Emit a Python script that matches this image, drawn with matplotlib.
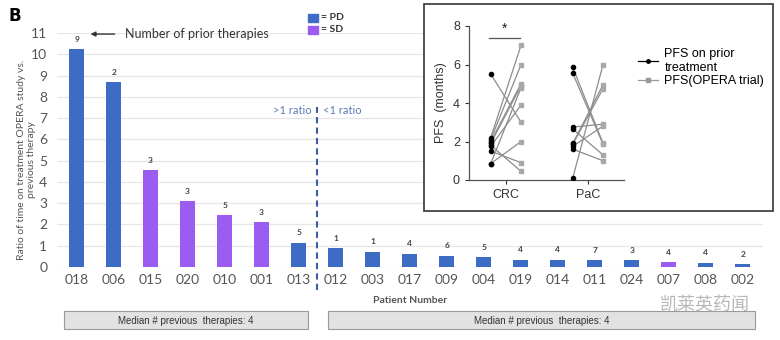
import matplotlib
matplotlib.use("Agg")
import matplotlib.pyplot as plt
from matplotlib.patches import Rectangle
from matplotlib.lines import Line2D

plt.rcParams['font.family'] = ['Lato', 'DejaVu Sans', 'Noto Sans CJK SC']

# Ratio of time on treatment (OPERA vs previous therapy), per patient
patients = ['018', '006', '015', '020', '010', '001', '013',
            '012', '003', '017', '009', '004', '019', '014', '011', '024', '007', '008', '002']
ratios = [10.25, 8.7, 4.55, 3.1, 2.45, 2.1, 1.15,
          0.87, 0.72, 0.62, 0.54, 0.46, 0.34, 0.34, 0.31, 0.31, 0.24, 0.2, 0.13]
prior_therapies = [9, 2, 3, 3, 5, 3, 5, 1, 1, 4, 6, 5, 4, 4, 7, 3, 4, 4, 2]
response = ['PD', 'PD', 'SD', 'SD', 'SD', 'SD', 'PD',
            'PD', 'PD', 'PD', 'PD', 'PD', 'PD', 'PD', 'PD', 'PD', 'SD', 'PD', 'PD']
yticks_main = list(range(0, 12))

# PFS pairs (prior treatment -> OPERA trial), months
crc_prior = [5.5, 2.2, 2.1, 2.0, 1.9, 1.8, 1.75, 1.5, 0.85, 0.85]
crc_opera = [3.0, 7.0, 6.0, 5.0, 4.9, 0.45, 3.9, 0.9, 2.0, 4.8]
pac_prior = [5.85, 5.55, 2.75, 2.65, 1.9, 1.85, 1.6, 0.1, 1.75]
pac_opera = [1.9, 1.85, 2.9, 1.3, 4.95, 4.75, 1.0, 6.0, 2.8]
inset_groups = ['CRC', 'PaC']

PD_COLOR = '#3d6cc4'
SD_COLOR = '#9b5cf2'
colors = {'PD': PD_COLOR, 'SD': SD_COLOR}
INSET_FONT = ['Liberation Sans', 'DejaVu Sans']

W, H = 780, 340
fig = plt.figure(figsize=(W / 100, H / 100), dpi=100)
fig.patch.set_facecolor('white')


def fx(px):
    return px / W


def fy(py):
    return 1 - py / H


# ---- main bar chart ----
ax = fig.add_axes([fx(57), fy(267), fx(763) - fx(57), fy(33) - fy(267)])
x = list(range(len(patients)))
ax.bar(x, ratios, width=0.4, color=[colors[r] for r in response], zorder=3)
for xi, v, n in zip(x, ratios, prior_therapies):
    ax.text(xi, v + 0.3, str(n), ha='center', va='bottom', fontsize=6,
            fontweight='bold', color='#444444')
ax.set_xlim(-0.53, 18.55)
ax.set_ylim(0, 11)
ax.set_yticks(yticks_main)
ax.set_yticklabels([str(t) for t in yticks_main], fontsize=10, color='#555555')
ax.set_xticks(x)
ax.set_xticklabels(patients, fontsize=10, color='#555555')
ax.tick_params(length=0, pad=7)
ax.tick_params(axis='x', pad=5)
ax.grid(axis='y', color='#e6e6e6', linewidth=0.9, zorder=0)
for s in ax.spines.values():
    s.set_visible(False)
ax.set_xlabel('Patient Number', fontsize=7.5, fontweight='bold', color='#555555')
ax.xaxis.set_label_coords((410 - 57) / (763 - 57), -0.125)
ax.set_ylabel('Ratio of time on treatment OPERA study vs.\nprevious therapy',
              fontsize=7.5, color='#555555', linespacing=1.1)
ax.yaxis.set_label_coords(-0.03, 0.46)

# divider between >1 and <1 ratio
ax.plot([6.5, 6.5], [-1.1, 7.5], linestyle=(0, (3, 2)), color='#3a5ea8',
        linewidth=1.5, clip_on=False, zorder=4)
ax.text(6.35, 7.35, '>1 ratio', ha='right', va='center', fontsize=8, color='#5b7bb5')
ax.text(6.65, 7.35, '<1 ratio', ha='left', va='center', fontsize=8, color='#5b7bb5')

# annotation arrow
ax.annotate('', xy=(0.3, 10.95), xytext=(1.1, 10.95),
            arrowprops=dict(arrowstyle='-|>', color='#333333', lw=1.0,
                            mutation_scale=7))
ax.text(1.3, 10.95, 'Number of prior therapies', ha='left', va='center',
        fontsize=9, color='#333333')

# legend squares
for py, lab, c in [(18, '= PD', PD_COLOR), (30, '= SD', SD_COLOR)]:
    fig.patches.append(Rectangle((fx(308), fy(py + 4)), fx(10), 8 / H,
                                 transform=fig.transFigure, color=c))
    fig.text(fx(321), fy(py), lab, fontsize=7.5, fontweight='bold',
             color='#333333', va='center', ha='left')

# panel letter
fig.text(fx(8), fy(16), 'B', fontsize=12, fontweight='bold', va='center',
         family=['DejaVu Sans'])

# median boxes
for x0, x1 in [(64, 308), (328, 755)]:
    fig.patches.append(Rectangle((fx(x0), fy(329)), fx(x1 - x0), (329 - 311) / H,
                                 transform=fig.transFigure, facecolor='#e2e2e2',
                                 edgecolor='#9a9a9a', linewidth=0.8))
    fig.text(fx((x0 + x1) / 2), fy(320.5), 'Median # previous  therapies: 4',
             fontsize=7, color='#333333', ha='center', va='center',
             family=INSET_FONT)

# watermark
fig.text(fx(660), fy(305), '凯莱英药闻', fontsize=13,
         family=['Noto Sans CJK SC', 'DejaVu Sans'], color='#b8b8b8',
         ha='left', va='center')

# ---- inset: PFS comparison ----
fig.patches.append(Rectangle((fx(424), fy(211)), fx(773 - 424), (211 - 4) / H,
                             transform=fig.transFigure, facecolor='white',
                             edgecolor='#444444', linewidth=1.3, zorder=5))
ins = fig.add_axes([fx(469), fy(180), fx(624) - fx(469), fy(26) - fy(180)])
ins.set_zorder(6)
ins.patch.set_alpha(0)
dx = 0.185
for gi, (pri, ope) in enumerate([(crc_prior, crc_opera), (pac_prior, pac_opera)]):
    for a, b in zip(pri, ope):
        ins.plot([gi - dx, gi + dx], [a, b], color='#8c8c8c', linewidth=0.9, zorder=2)
        ins.plot(gi + dx, b, marker='s', markersize=2.2, color='#a8a8a8', zorder=3)
        ins.plot(gi - dx, a, marker='o', markersize=3, color='black', zorder=4)
ins.plot([-0.21, 0.17], [7.4, 7.4], color='#555555', linewidth=0.9)
ins.text(-0.02, 7.5, '*', ha='center', va='bottom', fontsize=10, color='#222222',
         family=INSET_FONT)
ins.set_xlim(-0.45, 1.44)
ins.set_ylim(0, 8)
ins.set_yticks([0, 2, 4, 6, 8])
ins.set_xticks([0, 1])
ins.set_xticklabels(inset_groups)
ins.tick_params(labelsize=9, colors='#333333', length=3, width=0.8)
for lab in ins.get_xticklabels() + ins.get_yticklabels():
    lab.set_family(INSET_FONT)
for s in ['top', 'right']:
    ins.spines[s].set_visible(False)
for s in ['left', 'bottom']:
    ins.spines[s].set_color('#555555')
    ins.spines[s].set_linewidth(0.9)
ins.set_ylabel('PFS  (months)', fontsize=9, color='#333333', labelpad=4,
               family=INSET_FONT)

handles = [Line2D([0], [0], color='black', marker='o', markersize=2.5, linewidth=0.9),
           Line2D([0], [0], color='#999999', marker='s', markersize=2.2, linewidth=0.9)]
leg = fig.legend(handles, ['PFS on prior\ntreatment', 'PFS(OPERA trial)'],
                 loc='upper left', bbox_to_anchor=(fx(632), fy(42)),
                 frameon=False, handlelength=1.6, handletextpad=0.5,
                 labelspacing=0.1, borderpad=0,
                 prop={'family': INSET_FONT, 'size': 9})
leg.set_zorder(7)

fig.savefig('out.png', dpi=100, facecolor='white')
